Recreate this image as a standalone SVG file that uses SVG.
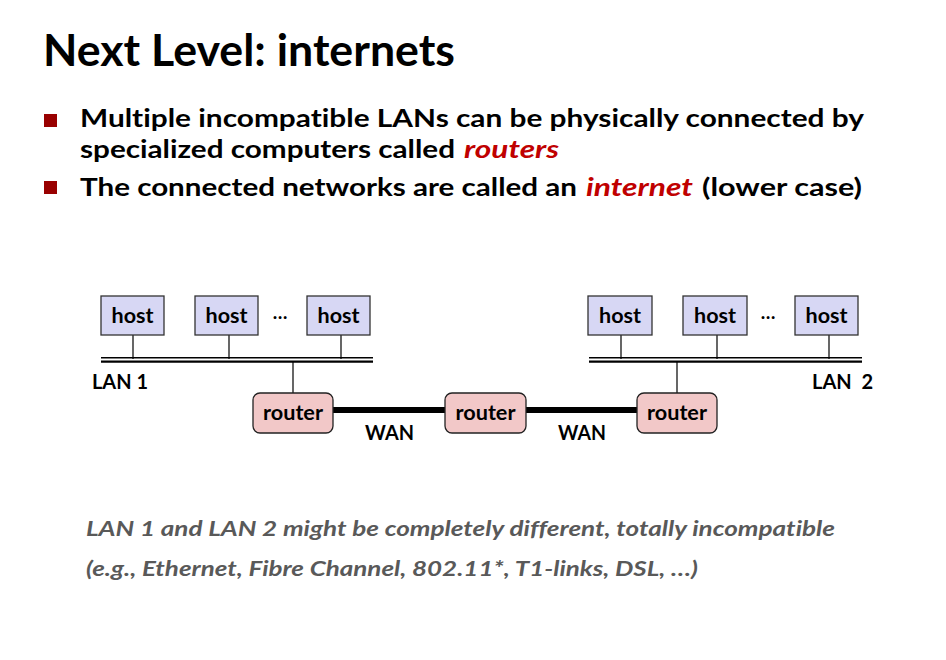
<svg xmlns="http://www.w3.org/2000/svg" width="946" height="660" viewBox="0 0 946 660">
  <style>
    text { font-family: Lato, "Open Sans", "Liberation Sans", sans-serif; font-weight: 700; fill: #000; font-variant-ligatures: none; }
    .title { font-size: 43px; }
    .bul { font-size: 25.5px; }
    .em { font-style: italic; fill: #c00000; }
    .note { font-style: italic; font-size: 20.5px; fill: #595959; }
    .lbl { font-size: 20px; text-anchor: middle; }
    .side { font-size: 20px; }
    .dots { font-size: 19px; text-anchor: middle; }
    .host rect { fill: #d7d7f4; stroke: #333; stroke-width: 1.3; }
    .router rect { fill: #f2c8c8; stroke: #222; stroke-width: 1.3; }
    .thin { stroke: #000; stroke-width: 1.2; fill: none; }
    .bus1 { stroke: #000; stroke-width: 1.4; }
    .bus2 { stroke: #000; stroke-width: 2.4; }
    .wan { stroke: #000; stroke-width: 6; }
  </style>

  <rect width="946" height="660" fill="#fff"/>

  <!-- heading -->
  <text class="title" x="43" y="66" textLength="412" lengthAdjust="spacingAndGlyphs">Next Level: internets</text>

  <!-- bullets -->
  <rect x="44" y="114" width="13" height="13" fill="#990000"/>
  <rect x="44" y="181" width="13" height="13" fill="#990000"/>
  <text class="bul" x="80" y="127" textLength="784" lengthAdjust="spacingAndGlyphs">Multiple incompatible LANs can be physically connected by</text>
  <text class="bul" x="80" y="158" textLength="375" lengthAdjust="spacingAndGlyphs">specialized computers called</text>
  <text class="bul em" x="464" y="158" textLength="95" lengthAdjust="spacingAndGlyphs">routers</text>
  <text class="bul" x="80" y="196" textLength="497" lengthAdjust="spacingAndGlyphs">The connected networks are called an</text>
  <text class="bul em" x="586" y="196" textLength="107" lengthAdjust="spacingAndGlyphs">internet</text>
  <text class="bul" x="702" y="196" textLength="160" lengthAdjust="spacingAndGlyphs">(lower case)</text>

  <!-- connectors: host drops, LAN buses, router drops, WAN links -->
  <g id="connectors">
    <line class="thin" x1="133" y1="335" x2="133" y2="359"/>
    <line class="thin" x1="229" y1="335" x2="229" y2="359"/>
    <line class="thin" x1="341" y1="335" x2="341" y2="359"/>
    <line class="thin" x1="621" y1="335" x2="621" y2="359"/>
    <line class="thin" x1="717" y1="335" x2="717" y2="359"/>
    <line class="thin" x1="829" y1="335" x2="829" y2="359"/>

    <line class="bus1" x1="101" y1="357.8" x2="373" y2="357.8"/>
    <line class="bus2" x1="101" y1="361.6" x2="373" y2="361.6"/>
    <line class="bus1" x1="589" y1="357.8" x2="862" y2="357.8"/>
    <line class="bus2" x1="589" y1="361.6" x2="862" y2="361.6"/>

    <line class="thin" x1="293" y1="362" x2="293" y2="393"/>
    <line class="thin" x1="677" y1="362" x2="677" y2="393"/>

    <line class="wan" x1="333" y1="410" x2="445" y2="410"/>
    <line class="wan" x1="526" y1="410" x2="637" y2="410"/>
  </g>

  <!-- LAN 1 hosts -->
  <g id="host-l1" class="host"><rect x="101" y="296" width="63" height="39"/><text class="lbl" x="132.5" y="323" textLength="42" lengthAdjust="spacingAndGlyphs">host</text></g>
  <g id="host-l2" class="host"><rect x="195" y="296" width="63" height="39"/><text class="lbl" x="226.5" y="323" textLength="42" lengthAdjust="spacingAndGlyphs">host</text></g>
  <g id="host-l3" class="host"><rect x="307" y="296" width="63" height="39"/><text class="lbl" x="338.5" y="323" textLength="42" lengthAdjust="spacingAndGlyphs">host</text></g>
  <text class="dots" x="280" y="319">…</text>

  <!-- LAN 2 hosts -->
  <g id="host-r1" class="host"><rect x="588" y="296" width="64" height="39"/><text class="lbl" x="620" y="323" textLength="42" lengthAdjust="spacingAndGlyphs">host</text></g>
  <g id="host-r2" class="host"><rect x="683" y="296" width="64" height="39"/><text class="lbl" x="715" y="323" textLength="42" lengthAdjust="spacingAndGlyphs">host</text></g>
  <g id="host-r3" class="host"><rect x="795" y="296" width="63" height="39"/><text class="lbl" x="826.5" y="323" textLength="42" lengthAdjust="spacingAndGlyphs">host</text></g>
  <text class="dots" x="768" y="319">…</text>

  <!-- routers -->
  <g id="router-1" class="router"><rect x="253" y="393" width="80" height="40" rx="7"/><text class="lbl" x="293" y="420" textLength="60" lengthAdjust="spacingAndGlyphs">router</text></g>
  <g id="router-2" class="router"><rect x="445" y="393" width="81" height="40" rx="7"/><text class="lbl" x="485.5" y="420" textLength="60" lengthAdjust="spacingAndGlyphs">router</text></g>
  <g id="router-3" class="router"><rect x="637" y="393" width="80" height="40" rx="7"/><text class="lbl" x="677" y="420" textLength="60" lengthAdjust="spacingAndGlyphs">router</text></g>

  <!-- network labels -->
  <text class="side" x="92" y="389" textLength="56" lengthAdjust="spacingAndGlyphs">LAN 1</text>
  <text class="side" x="812" y="389" textLength="61" lengthAdjust="spacingAndGlyphs" xml:space="preserve">LAN  2</text>
  <text class="side" x="365" y="440" textLength="49" lengthAdjust="spacingAndGlyphs">WAN</text>
  <text class="side" x="558" y="440" textLength="48" lengthAdjust="spacingAndGlyphs">WAN</text>

  <!-- footnote -->
  <text class="note" x="86" y="536" textLength="749" lengthAdjust="spacingAndGlyphs">LAN 1 and LAN 2 might be completely different, totally incompatible</text>
  <text class="note" x="86" y="576" textLength="612" lengthAdjust="spacingAndGlyphs">(e.g., Ethernet, Fibre Channel, 802.11*, T1-links, DSL, …)</text>
</svg>
